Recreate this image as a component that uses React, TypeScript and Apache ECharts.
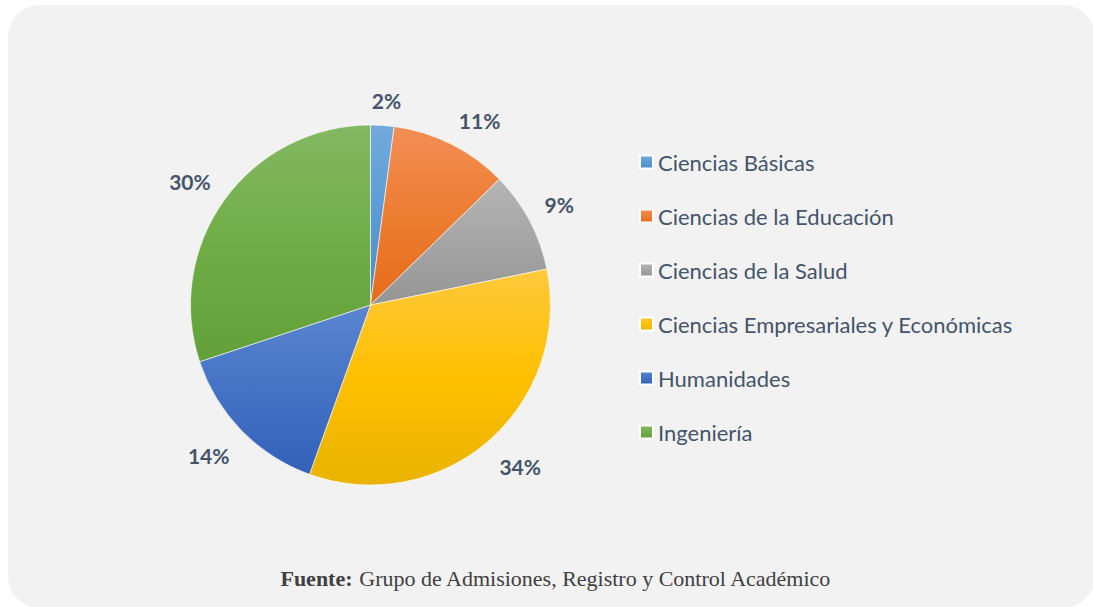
import React, { useEffect, useRef } from "react";
import * as echarts from "echarts";

const categories = [
  "Ciencias Básicas",
  "Ciencias de la Educación",
  "Ciencias de la Salud",
  "Ciencias Empresariales y Económicas",
  "Humanidades",
  "Ingeniería",
];
const shares = [2.1, 10.6, 9.1, 33.7, 14.4, 30.1];
const sourceBold = "Fuente:";
const sourceText = " Grupo de Admisiones, Registro y Control Académico";

const palette = [
  ["#72AADC", "#5B9BD5", "#4E8CC8"],
  ["#F28E55", "#ED7D31", "#E56C1A"],
  ["#B5B5B5", "#A5A5A5", "#959595"],
  ["#FFC93C", "#FFC000", "#E8B300"],
  ["#5B85D0", "#4472C4", "#3361B9"],
  ["#84B862", "#70AD47", "#62A03A"],
];

export default function App() {
  const ref = useRef<HTMLDivElement>(null);
  useEffect(() => {
    document.body.style.margin = "0";
    const chart = echarts.init(ref.current!, undefined, { renderer: "svg" });
    const data = categories.map((name, i) => ({
      name,
      value: shares[i],
      itemStyle: {
        color: new echarts.graphic.LinearGradient(0, 0, 0, 1, [
          { offset: 0, color: palette[i][0] },
          { offset: 0.5, color: palette[i][1] },
          { offset: 1, color: palette[i][2] },
        ]),
      },
    }));
    chart.setOption({
      animation: false,
      backgroundColor: "#ffffff",
      graphic: [
        {
          type: "rect",
          z: -10,
          shape: { x: 8, y: 5, width: 1087, height: 603, r: 32 },
          style: { fill: "#F2F2F2" },
          silent: true,
        },
        {
          type: "text",
          x: 556,
          y: 578,
          style: {
            text: "{b|" + sourceBold + "}{n|" + sourceText + "}",
            align: "center",
            verticalAlign: "middle",
            rich: {
              b: {
                fontFamily: "Liberation Serif",
                fontWeight: "bold",
                fontSize: 22,
                fill: "#404040",
              },
              n: {
                fontFamily: "Liberation Serif",
                fontSize: 22,
                fill: "#404040",
              },
            },
          },
        },
      ],
      legend: {
        orient: "vertical",
        left: 634,
        top: 146,
        itemWidth: 13,
        itemHeight: 13,
        itemGap: 32,
        icon: "rect",
        selectedMode: false,
        textStyle: {
          fontFamily: "Lato",
          fontSize: 22,
          lineHeight: 22,
          color: "#44546A",
        },
        data: categories,
      },
      series: [
        {
          type: "pie",
          center: [370.5, 305],
          radius: 180,
          startAngle: 90,
          clockwise: true,
          avoidLabelOverlap: false,
          data,
          itemStyle: { borderColor: "#ffffff", borderWidth: 0.6 },
          emphasis: { disabled: true },
          label: {
            show: true,
            position: "outside",
            fontFamily: "Lato",
            fontWeight: "bold",
            fontSize: 21,
            color: "#44546A",
            formatter: (p: any) => Math.round(p.percent) + "%",
          },
          labelLine: {
            show: true,
            length: 17,
            length2: 1,
            lineStyle: { opacity: 0, width: 0 },
          },
          labelLayout: (params: any) => {
            const pts = params.labelLinePoints;
            if (!pts || pts.length < 2) return {};
            const p1 = pts[0];
            const p2 = pts[1];
            let dx = p2[0] - p1[0];
            let dy = p2[1] - p1[1];
            const len = Math.hypot(dx, dy) || 1;
            dx /= len;
            dy /= len;
            const w = params.labelRect.width;
            const h = params.labelRect.height;
            const sx = Math.max(-1, Math.min(1, dx * 3));
            const sy = Math.max(-1, Math.min(1, dy * 3));
            return {
              x: p2[0] + (sx * w) / 2,
              y: p2[1] + (sy * h) / 2 + 2.5,
              align: "center",
              verticalAlign: "middle",
            };
          },
        },
      ],
    });
    return () => chart.dispose();
  }, []);
  return <div ref={ref} style={{ width: 1093, height: 607 }} />;
}
